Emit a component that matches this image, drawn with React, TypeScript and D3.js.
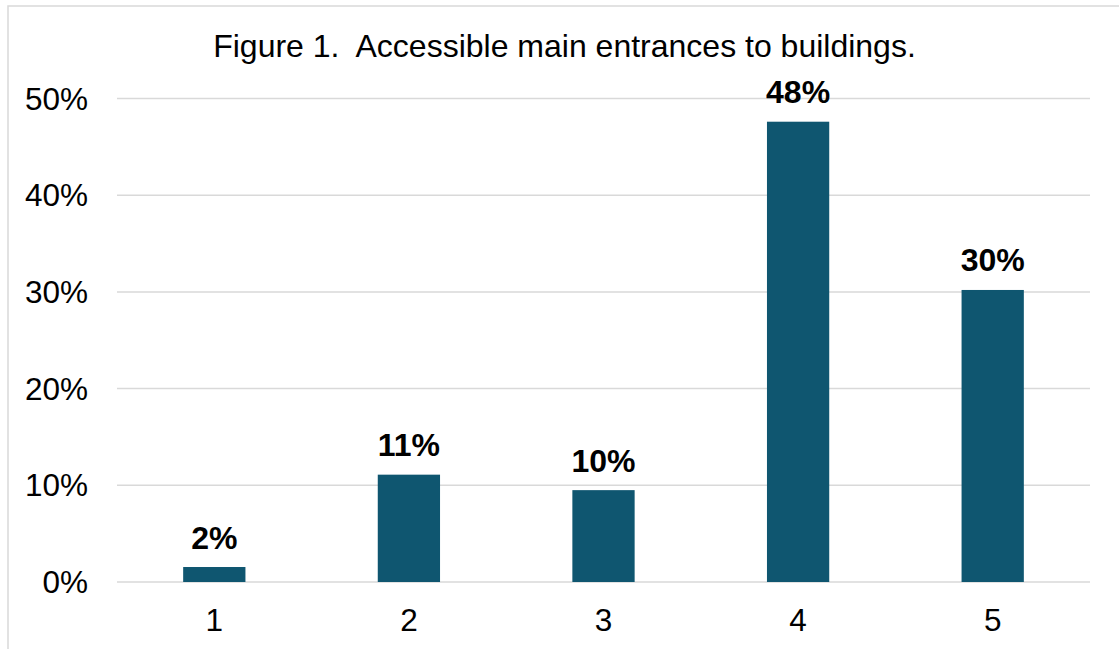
import React from "react";
import * as d3 from "d3";

const categories = ["1", "2", "3", "4", "5"];
const values = [1.55, 11.1, 9.5, 47.6, 30.2];
const labels = ["2%", "11%", "10%", "48%", "30%"];
const yTicks = [0, 10, 20, 30, 40, 50];
const title = "Figure 1.  Accessible main entrances to buildings.";

const W = 1119;
const H = 649;
const FONT = "Liberation Sans, Arial, sans-serif";

export default function App() {
  const x = d3.scaleBand<string>().domain(categories).range([117, 1090]).paddingInner(0.68).paddingOuter(0.34);
  const y = d3.scaleLinear().domain([0, 50]).range([582, 98.5]);
  const color = "#0F5670";
  return (
    <svg width={W} height={H} style={{ position: "fixed", left: 0, top: 0 }} fontFamily={FONT}>
      <rect x={0} y={0} width={W} height={H} fill="#fff" />
      <rect x={8} y={6} width={1300} height={1000} fill="none" stroke="#d9d9d9" strokeWidth={1.5} />
      <text x={564.5} y={57} textAnchor="middle" fontSize={32} fill="#000" style={{ whiteSpace: "pre" }}>{title}</text>
      {yTicks.map((t) => (
        <g key={t}>
          <line x1={117} x2={1090} y1={y(t)} y2={y(t)} stroke="#d9d9d9" strokeWidth={1.5} />
          <text x={88} y={y(t) + 11} textAnchor="end" fontSize={31.5} fill="#000">{`${t}%`}</text>
        </g>
      ))}
      {categories.map((c, i) => (
        <g key={c}>
          <rect x={x(c)} y={y(values[i])} width={x.bandwidth()} height={y(0) - y(values[i])} fill={color} />
          <text x={x(c)! + x.bandwidth() / 2} y={y(values[i]) - 18.5} textAnchor="middle" fontSize={32} fontWeight="bold" fill="#000">{labels[i]}</text>
          <text x={x(c)! + x.bandwidth() / 2} y={631} textAnchor="middle" fontSize={31.5} fill="#000">{c}</text>
        </g>
      ))}
    </svg>
  );
}
